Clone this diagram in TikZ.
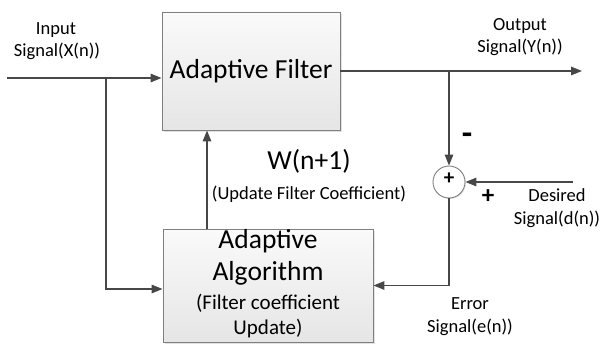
\documentclass[tikz,border=0pt]{standalone}
\usepackage{fontspec}
\setmainfont{Carlito}
\usetikzlibrary{arrows.meta,shadows,calc}
\definecolor{linegray}{HTML}{474747}
\definecolor{boxedge}{HTML}{7F7F7F}
\begin{document}
\begin{tikzpicture}[x=1pt,y=-1pt,
  conn/.style={draw=linegray, line width=1.4pt, -{Triangle[length=11pt,width=8.5pt]}},
  plain/.style={draw=linegray, line width=1.4pt},
  blockbox/.style={draw=boxedge, line width=0.9pt, top color=gray!4, bottom color=gray!20,
     drop shadow={shadow xshift=2pt,shadow yshift=-2pt,fill=gray!45}, inner sep=0pt, align=center},
  sumnode/.style={circle, draw=boxedge, line width=0.9pt, fill=white, minimum size=32pt, inner sep=0pt,
     drop shadow={shadow xshift=1pt,shadow yshift=-1pt,fill=gray!40}},
  txt/.style={inner sep=0pt, text height=0.68em, text depth=0.2em, align=center},
  bigf/.style={txt, font=\fontsize{27.5}{33}\selectfont},
  midf/.style={txt, font=\fontsize{21}{25}\selectfont},
  smallf/.style={txt, font=\fontsize{18.5}{22}\selectfont},
  signf/.style={txt, font=\bfseries\fontsize{25}{28}\selectfont},
]
\useasboundingbox (0,0) rectangle (601,350);

% blocks
\node[blockbox, minimum width=178pt, minimum height=118pt, font=\fontsize{27.5}{33}\selectfont] (filter) at (251,71) {Adaptive Filter};
\node[blockbox, minimum width=210pt, minimum height=113pt] (alg) at (268,285.5) {};
\node[sumnode] (sum) at (449,182) {};
\node[txt, font=\bfseries\fontsize{21}{24}\selectfont] (sumplus) at (sum.center) {+};

% algorithm text
\node[bigf] (algA) at (268,246) {Adaptive};
\node[bigf] (algB) at (268,278) {Algorithm};
\node[midf] (algC) at (268,307) {(Filter coefficient};
\node[midf] (algD) at (268,332) {Update)};

% coordinates
\coordinate (inStart) at (7,78);
\coordinate (jin) at (106,78);
\coordinate (algIn) at (106,289);
\coordinate (upStart) at (207,229);
\coordinate (jout) at (449,71);
\coordinate (outEnd) at (582,71);
\coordinate (desStart) at (573,182);

% connectors
\draw[conn] (inStart) -- (inStart -| filter.west);
\draw[conn] (jin) -- (algIn) -- (algIn -| alg.west);
\draw[conn] (upStart) -- (upStart |- filter.south);
\draw[conn] (filter.east) -- (outEnd);
\draw[conn] (jout) -- (sum.north);
\draw[conn] (desStart) -- (sum.east);
\draw[conn] (sum.south) |- (alg.east);

% labels
\node[smallf] (inL1) at (56,32) {Input};
\node[smallf] (inL2) at (57,54) {Signal(X(n))};
\node[smallf] (outL1) at (520,28) {Output};
\node[smallf] (outL2) at (520,50) {Signal(Y(n))};
\node[bigf] (wlab) at (309,167) {W(n+1)};
\node[smallf] (wsub) at (309,197) {(Update Filter Coefficient)};
\node[txt, font=\bfseries\fontsize{34}{36}\selectfont] (minus) at (467,142) {-};
\node[signf] (plus) at (488,201) {+};
\node[smallf] (desL1) at (557,199) {Desired};
\node[smallf] (desL2) at (557,222) {Signal(d(n))};
\node[smallf] (errL1) at (470,307) {Error};
\node[smallf] (errL2) at (470,330) {Signal(e(n))};
\end{tikzpicture}
\end{document}
